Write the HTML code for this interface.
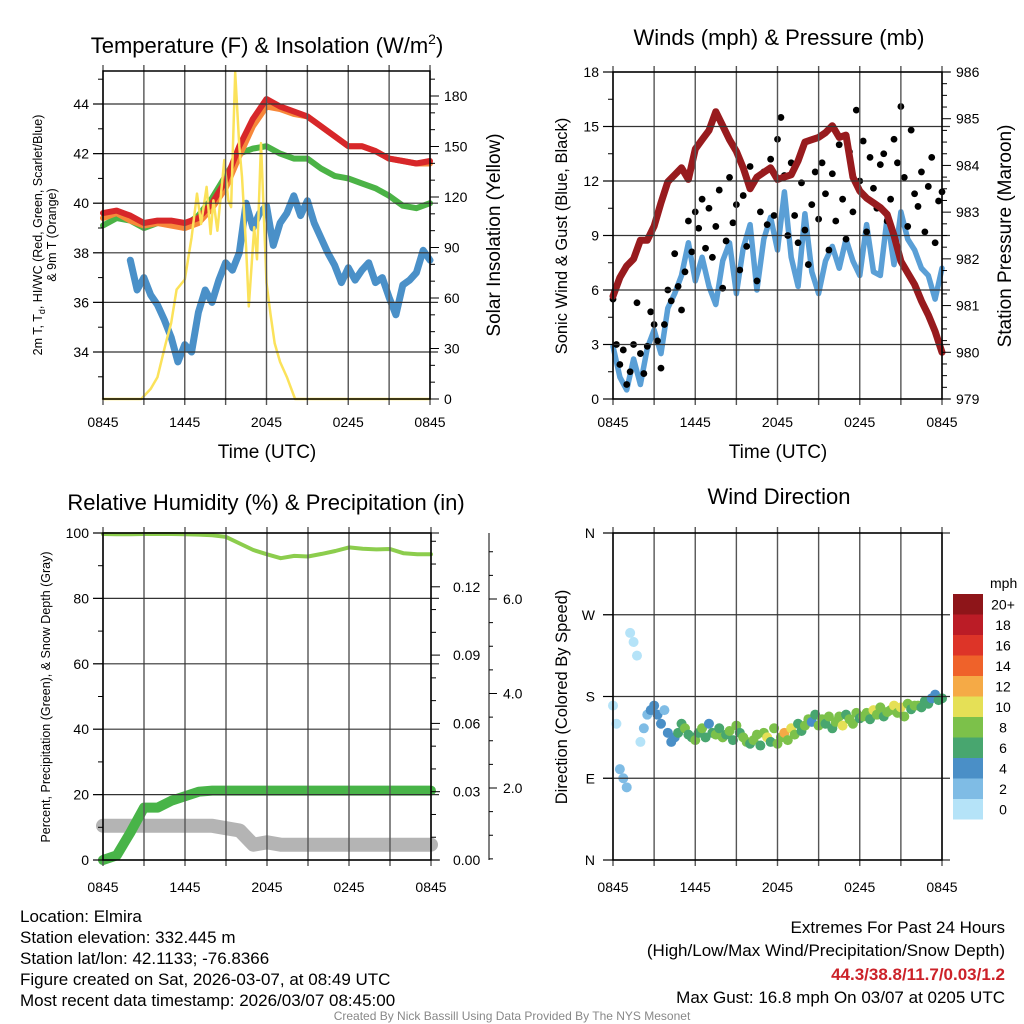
<!DOCTYPE html>
<html><head><meta charset="utf-8"><style>
html,body{margin:0;padding:0;background:#fff;}
svg{display:block;font-family:"Liberation Sans",sans-serif;}
</style></head><body>
<svg id="fig" width="1024" height="1024" viewBox="0 0 1024 1024" xmlns="http://www.w3.org/2000/svg">
<g id="marks"></g>
<g id="axes"></g>
<g font-size="22" text-anchor="middle" fill="#000">
<text x="267" y="53">Temperature (F) &amp; Insolation (W/m<tspan font-size="14" dy="-9">2</tspan><tspan dy="9">)</tspan></text>
<text x="779" y="45">Winds (mph) &amp; Pressure (mb)</text>
<text x="266" y="510">Relative Humidity (%) &amp; Precipitation (in)</text>
<text x="779" y="504">Wind Direction</text>
</g>
<g fill="#000" text-anchor="middle">
<text x="267" y="458" font-size="19">Time (UTC)</text>
<text x="778" y="458" font-size="19">Time (UTC)</text>
<text font-size="12.5" transform="translate(42,235) rotate(-90)">2m T, T<tspan font-size="9" dy="3">d</tspan><tspan dy="-3">, HI/WC (Red, Green, Scarlet/Blue)</tspan></text>
<text font-size="12.5" transform="translate(56,235) rotate(-90)">&amp; 9m T (Orange)</text>
<text font-size="19" transform="translate(500,235) rotate(-90)">Solar Insolation (Yellow)</text>
<text font-size="16.5" transform="translate(567,236) rotate(-90)">Sonic Wind &amp; Gust (Blue, Black)</text>
<text font-size="19" transform="translate(1011,236) rotate(-90)">Station Pressure (Maroon)</text>
<text font-size="12.5" transform="translate(50,697) rotate(-90)">Percent, Precipitation (Green), &amp; Snow Depth (Gray)</text>
<text font-size="16.5" transform="translate(567,697) rotate(-90)">Direction (Colored By Speed)</text>
</g>
<g font-size="17" fill="#000">
<text x="20" y="922">Location: Elmira</text>
<text x="20" y="943">Station elevation: 332.445 m</text>
<text x="20" y="964">Station lat/lon: 42.1133; -76.8366</text>
<text x="20" y="985">Figure created on Sat, 2026-03-07, at 08:49 UTC</text>
<text x="20" y="1006">Most recent data timestamp: 2026/03/07 08:45:00</text>
</g>
<g font-size="17" fill="#000" text-anchor="end">
<text x="1005" y="933">Extremes For Past 24 Hours</text>
<text x="1005" y="956">(High/Low/Max Wind/Precipitation/Snow Depth)</text>
<text x="1005" y="980" fill="#cc2229" font-weight="bold">44.3/38.8/11.7/0.03/1.2</text>
<text x="1005" y="1003">Max Gust: 16.8 mph On 03/07 at 0205 UTC</text>
</g>
<text x="512" y="1020" font-size="12" fill="#888" text-anchor="middle">Created By Nick Bassill Using Data Provided By The NYS Mesonet</text>
</svg>
<script>
// ---------- data ----------
const xTickLabels = ["0845","1445","2045","0245","0845"];
const tempTicks = [34,36,38,40,42,44];
const solarTicks = [0,30,60,90,120,150,180];
const windTicks = [0,3,6,9,12,15,18];
const presTicks = [979,980,981,982,983,984,985,986];
const rhTicks = [0,20,40,60,80,100];
const precipTicks = ["0.00","0.03","0.06","0.09","0.12"];
const snowTicks = ["2.0","4.0","6.0"];
const dirTicks = ["N","E","S","W","N"];
const speedBins = ["0","2","4","6","8","10","12","14","16","18","20+"];
const speedColors = ["#b5e3f8","#7fbce5","#4a8fc7","#48a66f","#7cc14a","#e5e056","#f5aa46","#ef622a","#dd3428","#bb1c26","#8e1519"];

// hourly (t=0..24)
const tempRed    = [39.6,39.7,39.5,39.2,39.3,39.3,39.2,39.4,40.0,40.9,42.3,43.4,44.2,43.9,43.7,43.5,43.1,42.7,42.3,42.3,42.1,41.8,41.7,41.6,41.7];
const tempOrange = [39.4,39.6,39.3,39.1,39.2,39.1,39.0,39.2,39.8,40.6,41.9,43.1,43.9,43.8,43.6,43.5,43.1,42.7,42.3,42.3,42.1,41.8,41.7,41.6,41.6];
const tempGreen  = [39.1,39.4,39.3,39.0,39.2,39.2,39.1,39.5,40.2,41.1,42.0,42.2,42.3,42.0,41.8,41.8,41.4,41.1,41.0,40.8,40.6,40.3,39.9,39.8,40.0];
// dewpoint, half-hourly from t=2.0
const dewStart = 2.0;
const dewBlue = [37.7,36.5,37.0,36.3,35.9,35.3,34.6,33.6,34.3,34.0,35.6,36.5,36.0,36.9,37.6,37.3,38.0,40.0,39.0,39.6,39.9,38.3,39.2,39.6,40.3,39.5,40.1,39.2,38.6,38.0,37.5,36.8,37.4,36.9,37.3,37.6,36.8,37.0,36.2,35.5,36.7,36.9,37.2,38.1,37.7];
// solar insolation
const solarTimes = [0,2.8,3.5,4.0,4.6,5.0,5.4,6.0,6.5,6.9,7.2,7.6,7.9,8.1,8.4,8.9,9.2,9.4,9.7,10.0,10.2,10.5,10.7,11.1,11.3,11.6,12.0,12.3,12.6,13.0,13.5,14.1,24];
const solarVals  = [0,0,6,13,33,45,65,71,96,122,104,126,98,118,100,142,118,114,194,150,132,90,55,102,83,152,69,50,33,22,13,0,0];
// wind panel, half-hourly
const pressure = [981.2,981.6,981.85,982.0,982.4,982.4,982.7,983.2,983.65,983.8,983.95,983.7,984.35,984.55,984.75,985.15,984.85,984.55,984.3,983.95,983.5,983.75,983.85,983.95,983.7,983.75,983.8,984.1,984.5,984.55,984.6,984.7,984.85,984.6,984.65,983.75,983.45,983.3,983.2,983.1,982.95,982.5,981.95,981.7,981.45,981.1,980.8,980.45,980.0];
const windSpeed = [2.9,1.2,0.5,2.2,0.8,2.8,3.8,2.5,5.0,5.8,6.8,8.6,6.5,7.8,6.2,5.2,7.6,8.6,5.8,8.3,9.6,6.0,8.8,10.0,8.2,11.4,7.8,6.2,10.2,7.0,5.8,7.6,8.4,7.2,8.8,7.6,6.8,9.6,7.0,6.8,10.0,7.4,10.3,8.8,8.2,7.2,6.8,5.5,7.2];
// gusts, quarter-hourly
const gusts = [5.5,3.0,1.9,2.7,0.8,1.5,3.0,5.3,2.5,
1.4,2.9,4.8,4.1,3.2,1.7,4.1,6.0,
5.4,8.0,6.2,4.9,7.0,9.8,8.1,10.3,
9.4,11.0,8.3,10.5,7.8,9.5,11.5,6.1,
8.7,12.2,9.7,10.7,7.1,11.2,8.4,12.8,
11.9,6.5,10.3,12.5,9.6,13.2,10.1,14.3,
15.5,12.3,9.0,13.0,10.1,8.6,11.9,9.3,
7.4,10.7,12.5,9.9,13.0,11.3,8.2,12.4,
9.8,14.0,11.0,8.8,13.6,10.3,15.9,12.0,
14.2,9.2,13.3,11.6,10.5,12.9,13.5,9.8,
11.0,14.3,13.0,16.1,12.2,9.5,14.8,11.3,
10.6,12.5,9.2,11.7,13.3,8.6,10.9,11.4];
// RH panel hourly
const relHum = [99.7,99.6,99.6,99.7,99.7,99.7,99.6,99.5,99.3,98.8,96.8,94.8,93.5,92.3,93.0,92.8,93.6,94.5,95.6,95.2,95.0,95.1,93.8,93.5,93.5];
const precip = [0,0.002,0.012,0.023,0.023,0.026,0.028,0.030,0.0305,0.0305,0.0305,0.0305,0.0305,0.0305,0.0305,0.0305,0.0305,0.0305,0.0305,0.0305,0.0305,0.0305,0.0305,0.0305,0.0305];
const snowDepth = [1.2,1.2,1.2,1.2,1.2,1.2,1.2,1.2,1.2,1.15,1.1,0.8,0.85,0.8,0.8,0.8,0.8,0.8,0.8,0.8,0.8,0.8,0.8,0.8,0.8];
// wind direction, quarter-hourly
const windDir = [170,150,100,90,80,250,240,225,130,
145,160,165,170,160,150,165,140,
130,135,140,150,145,138,135,132,
140,145,135,150,140,138,145,135,
138,142,132,148,140,135,130,128,
132,138,126,140,135,130,145,128,
135,140,132,145,138,150,142,148,
155,152,160,148,155,150,158,145,
152,158,148,160,155,150,162,156,
158,162,155,165,160,168,158,163,
165,170,162,168,158,172,166,170,
170,168,175,172,178,182,176,178];
const dirSpeed = [1,1,3,3,3,0,0,1,1,
3,3,4,5,4,5,3,4,
4,5,6,7,8,6,7,8,
6,8,7,5,7,8,6,9,
7,8,6,8,7,9,8,6,
8,9,7,8,10,6,8,9,
8,12,9,10,8,7,6,9,
8,5,7,9,8,6,8,7,
9,8,10,7,8,9,8,7,
8,9,7,10,8,9,7,8,
9,10,8,11,8,9,7,8,
8,7,6,7,5,4,6,7];

// ---------- helpers ----------
const NS="http://www.w3.org/2000/svg";
const marks=document.getElementById('marks');
const axes=document.getElementById('axes');
function mk(tag,attrs,parent){const e=document.createElementNS(NS,tag);for(const k in attrs)e.setAttribute(k,attrs[k]);parent.appendChild(e);return e;}
function lin(d0,d1,r0,r1){return v=>r0+(v-d0)*(r1-r0)/(d1-d0);}

const P1={x0:103,x1:430,y0:71,y1:399}, P2={x0:613,x1:942,y0:72,y1:399}, P3={x0:103,x1:431,y0:533,y1:860}, P4={x0:613,x1:942,y0:533,y1:860};
const panels=[P1,P2,P3,P4];
panels.forEach(P=>{P.x=lin(0,24,P.x0,P.x1);});
const yT=lin(34,44,352,104), yS=lin(0,180,399,96);
const yW=lin(0,18,399,72), yP=lin(979,986,399,72);
const yRH=lin(0,100,860,533), yPr=lin(0,0.03,860,791.7), ySn=lin(2,4,788,693.5);
const yD=lin(0,360,860,533);

function grid(P,yvals,name){
  for(let h=0;h<=24;h+=3){
    const g=mk('line',{x1:P.x(h),x2:P.x(h),y1:P.y0-6,y2:P.y1+6,stroke:'#555','stroke-width':1.4},axes);
    
    
  }
  yvals.forEach(y=>{
    const g=mk('line',{x1:P.x0-10,x2:P.x1+8,y1:y,y2:y,stroke:'#333','stroke-width':1.2},axes);
    
    
  });
  const b=mk('rect',{x:P.x0,y:P.y0,width:P.x1-P.x0,height:P.y1-P.y0,fill:'none',stroke:'#000','stroke-width':1.5},axes);
  
  
}
grid(P1,tempTicks.map(yT),'temp');
grid(P2,windTicks.map(yW),'wind');
grid(P3,rhTicks.map(yRH),'rh');
grid(P4,[0,90,180,270,360].map(yD),'dir');

function label(x,y,txt,anchor,name,size){
  const t=mk('text',{x:x,y:y,'text-anchor':anchor,'font-size':size||14,fill:'#000'},axes);
  t.textContent=txt;
  
  
  return t;
}
function tick(x1,y1,x2,y2,name){
  const l=mk('line',{x1:x1,y1:y1,x2:x2,y2:y2,stroke:'#000','stroke-width':1},axes);
  
  
}
panels.forEach((P,i)=>{
  xTickLabels.forEach((s,j)=>{label(P.x(j*6),P.y1+(i<2?28:32),s,'middle','x-tick-label',14);});
});
for(let v=33;v<=45;v++) tick(P1.x0-(v%2===0?10:5),yT(v),P1.x0,yT(v),'temp-tick');
tempTicks.forEach(v=>label(P1.x0-14,yT(v)+5,String(v),'end','temp-tick-label'));
for(let v=0;v<=190;v+=10) tick(P1.x1,yS(v),P1.x1+(v%30===0?9:5),yS(v),'solar-tick');
solarTicks.forEach(v=>label(P1.x1+14,yS(v)+5,String(v),'start','solar-tick-label'));
for(let v=0;v<=18;v+=1.5) tick(P2.x0-(v%3===0?10:5),yW(v),P2.x0,yW(v),'wind-tick');
windTicks.forEach(v=>label(P2.x0-14,yW(v)+5,String(v),'end','wind-tick-label'));
for(let v=979;v<=986;v+=0.25) tick(P2.x1,yP(v),P2.x1+(Math.abs(v-Math.round(v))<0.01?9:5),yP(v),'pressure-tick');
presTicks.forEach(v=>label(P2.x1+14,yP(v)+5,String(v),'start','pressure-tick-label'));
for(let v=0;v<=100;v+=10) tick(P3.x0-(v%20===0?10:5),yRH(v),P3.x0,yRH(v),'rh-tick');
rhTicks.forEach(v=>label(P3.x0-14,yRH(v)+5,String(v),'end','rh-tick-label'));
for(let i=0;i<=14;i++){const v=i*0.01;tick(P3.x1,yPr(v),P3.x1+(i%3===0?9:5),yPr(v),'precip-tick');}
precipTicks.forEach(s=>label(P3.x1+22,yPr(parseFloat(s))+5,s,'start','precip-tick-label'));
tick(489,533,489,860,'snow-axis');
for(let v=0.5;v<=7;v+=0.5){const y=ySn(v);if(y>=533&&y<=860)tick(489,y,489+(v%2===0?8:4),y,'snow-tick');}
snowTicks.forEach(s=>label(503,ySn(parseFloat(s))+5,s,'start','snow-tick-label'));
dirTicks.forEach((s,i)=>{tick(P4.x0-10,yD(i*90),P4.x0,yD(i*90),'dir-tick');label(P4.x0-18,yD(i*90)+5,s,'end','dir-tick-label');});

function path(xs,ys,stroke,w,name,parent){
  let d='';
  for(let i=0;i<xs.length;i++) d+=(i?'L':'M')+xs[i].toFixed(1)+','+ys[i].toFixed(1);
  const p=mk('path',{d:d,fill:'none',stroke:stroke,'stroke-width':w,'stroke-linejoin':'round','stroke-linecap':'round'},parent||marks);
  
  
  return p;
}
const hrs=tempRed.map((_,i)=>i);
path(hrs.map(P1.x),tempGreen.map(yT),'#4bb346',6,'heat-index-line');
path(hrs.map(P1.x),tempOrange.map(yT),'#f7883a',6,'temp-9m-line');
path(hrs.map(P1.x),tempRed.map(yT),'#d7272a',6,'temp-2m-line');
path(dewBlue.map((_,i)=>P1.x(dewStart+i*0.5)),dewBlue.map(yT),'#4a90c8',7,'dewpoint-line');
path(solarTimes.map(P1.x),solarVals.map(yS),'#fbe25a',2.5,'solar-line');
path(windSpeed.map((_,i)=>P2.x(i*0.5)),windSpeed.map(yW),'#5a9fd6',5.5,'sonic-wind-line');
gusts.forEach((v,i)=>{
  const c=mk('circle',{cx:P2.x(i*0.25),cy:yW(v),r:3.4,fill:'#000'},marks);
  
  
});
path(pressure.map((_,i)=>P2.x(i*0.5)),pressure.map(yP),'#981b1e',7,'pressure-line');
path(hrs.map(P3.x),snowDepth.map(ySn),'#b4b4b4',14,'snow-depth-line');
path(hrs.map(P3.x),precip.map(yPr),'#48b448',10,'precip-line');
path(hrs.map(P3.x),relHum.map(yRH),'#8ccd4d',4,'rh-line');
windDir.forEach((d,i)=>{
  const bin=Math.min(10,Math.floor(dirSpeed[i]/2));
  const c=mk('circle',{cx:P4.x(i*0.25),cy:yD(d),r:5,fill:speedColors[bin]},marks);
  
  
});
const cbTop=594, cbH=20.5;
label(990,588,'mph','start','colorbar-title',14);
speedBins.forEach((s,i)=>{
  const y=cbTop+(10-i)*cbH;
  const r=mk('rect',{x:953,y:y,width:30,height:cbH,fill:speedColors[i]},axes);
  
  
  label(1003,y+cbH/2+5,s,'middle','colorbar-label',14);
});
</script>
</body></html>
